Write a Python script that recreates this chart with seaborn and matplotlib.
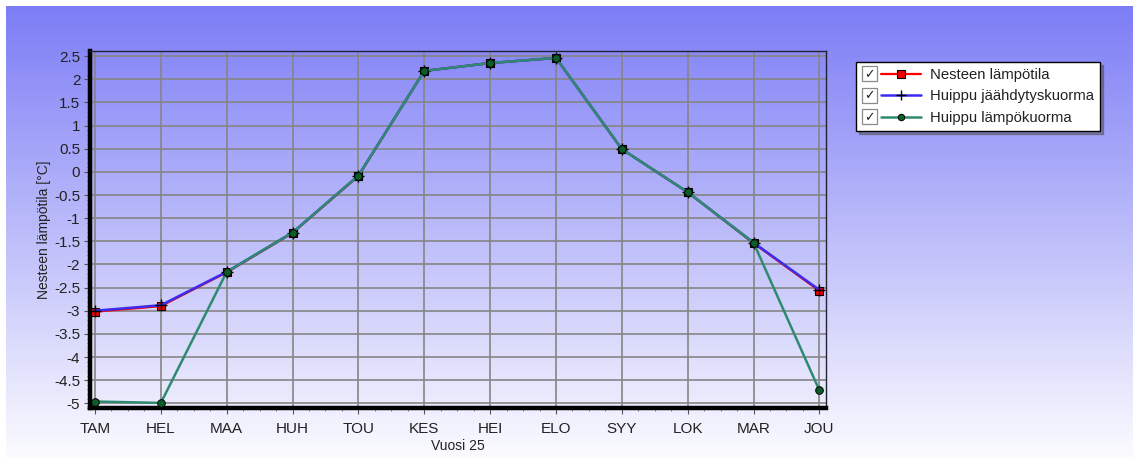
import numpy as np
import pandas as pd
import matplotlib
matplotlib.use("Agg")
import matplotlib.pyplot as plt
import seaborn as sns
from matplotlib.legend_handler import HandlerLine2D
from matplotlib.patches import Rectangle
from matplotlib.text import Text
from matplotlib.ticker import MultipleLocator, FixedLocator

# Monthly values
months = ["TAM", "HEL", "MAA", "HUH", "TOU", "KES", "HEI", "ELO", "SYY", "LOK", "MAR", "JOU"]
fluid_temp = [-3.02, -2.90, -2.17, -1.32, -0.09, 2.18, 2.35, 2.46, 0.49, -0.44, -1.54, -2.57]
peak_cooling = [-3.00, -2.88, -2.16, -1.31, -0.08, 2.18, 2.35, 2.46, 0.49, -0.44, -1.53, -2.55]
peak_heating = [-4.96, -4.99, -2.16, -1.31, -0.08, 2.18, 2.35, 2.46, 0.49, -0.44, -1.53, -4.72]

series_names = ["Nesteen lämpötila", "Huippu jäähdytyskuorma", "Huippu lämpökuorma"]

sns.set_style("white")
plt.rcParams["font.family"] = ["Liberation Sans", "DejaVu Sans"]

W, H = 1133, 458
fig = plt.figure(figsize=(W / 100, H / 100), dpi=100)
fig.patch.set_facecolor("white")

# Vertical blue-to-white gradient panel behind everything
bg = fig.add_axes([6 / W, 0, 1 - 6 / W, 1 - 6 / H], zorder=-10)
top = np.array([0.49, 0.49, 0.965])
bot = np.array([0.985, 0.985, 1.0])
t = np.linspace(0, 1, 256)[:, None]
grad = (top[None, :] * (1 - t) + bot[None, :] * t)[:, None, :]
bg.imshow(grad, aspect="auto", extent=[0, 1, 0, 1], interpolation="bilinear")
bg.set_axis_off()

ax = fig.add_axes([90 / W, 1 - 408 / H, (826 - 90) / W, (408 - 51) / H])
ax.patch.set_alpha(0)

df = pd.DataFrame({"m": np.arange(len(months)),
                   "fluid": fluid_temp, "cool": peak_cooling, "heat": peak_heating})

sns.lineplot(data=df, x="m", y="fluid", ax=ax, color="#ff0000", lw=1.6,
             marker="s", markersize=6, markerfacecolor="#ee0000",
             markeredgecolor="black", markeredgewidth=0.8, zorder=3, label=series_names[0])
sns.lineplot(data=df, x="m", y="cool", ax=ax, color="#3a2cf0", lw=1.8,
             marker="+", markersize=9, markeredgecolor="black",
             markeredgewidth=1.0, zorder=4, label=series_names[1])
sns.lineplot(data=df, x="m", y="heat", ax=ax, color="#2f8a70", lw=1.8,
             marker="o", markersize=5.5, markerfacecolor="#0b5e2a",
             markeredgecolor="black", markeredgewidth=0.7, zorder=5, label=series_names[2])

ax.set_xlim(-0.076, 11.1)
ax.set_ylim(-5.10, 2.61)
ax.xaxis.set_major_locator(FixedLocator(np.arange(len(months))))
ax.set_xticklabels(months)
ax.xaxis.set_minor_locator(MultipleLocator(0.25))
ax.yaxis.set_major_locator(MultipleLocator(0.5))
ax.yaxis.set_minor_locator(MultipleLocator(0.1))
ax.set_yticklabels([f"{v:g}" for v in ax.get_yticks()])

ax.grid(True, which="major", color="#858585", lw=1.2)
ax.set_axisbelow(True)
ax.tick_params(axis="both", which="major", direction="out", length=4, width=0.8,
               color="#555555", labelsize=11, labelcolor="#222222", pad=3)
ax.tick_params(axis="x", which="major", pad=6)
ax.tick_params(axis="both", which="minor", direction="out", length=2.5, width=0.6,
               color="#666666")
ax.tick_params(axis="x", which="both", bottom=True)
ax.tick_params(axis="y", which="both", left=True)

for side in ["left", "bottom"]:
    ax.spines[side].set_linewidth(3.2)
    ax.spines[side].set_color("black")
for side in ["top", "right"]:
    ax.spines[side].set_linewidth(1.0)
    ax.spines[side].set_color("#222233")
    ax.spines[side].set_visible(True)

ax.set_xlabel("Vuosi 25", fontsize=10, color="#222222", labelpad=2)
ax.set_ylabel("Nesteen lämpötila [°C]", fontsize=10, color="#222222", labelpad=2)


class CheckHandler(HandlerLine2D):
    """Legend entry with a ticked check box in front of the line sample."""

    def create_artists(self, legend, orig_handle, xdescent, ydescent, width,
                       height, fontsize, trans):
        box = fontsize * 1.0
        shift = box * 1.3
        arts = super().create_artists(legend, orig_handle, xdescent - shift,
                                      ydescent, width - shift, height,
                                      fontsize, trans)
        y0 = -ydescent + (height - box) / 2
        rect = Rectangle((-xdescent, y0), box, box, facecolor="white",
                         edgecolor="#8a8a8a", lw=0.9, transform=trans)
        chk = Text(-xdescent + box * 0.5, y0 + box * 0.45, "✓", ha="center",
                   va="center", fontsize=fontsize * 0.85, color="#222222",
                   fontweight="bold", family="DejaVu Sans", transform=trans)
        return [rect, chk] + list(arts)


handles, labels = ax.get_legend_handles_labels()
leg = ax.legend(handles, labels, loc="upper left",
                bbox_to_anchor=(856 / W, 1 - 62 / H), bbox_transform=fig.transFigure,
                handler_map={h: CheckHandler() for h in handles},
                handlelength=4.0, handletextpad=0.6, fontsize=10.7,
                frameon=True, fancybox=False, shadow=True, framealpha=1,
                borderpad=0.4, labelspacing=0.5, borderaxespad=0, markerscale=0.85)
leg.get_frame().set_edgecolor("black")
leg.get_frame().set_linewidth(1.0)
for txt in leg.get_texts():
    txt.set_color("#222222")

fig.savefig("out.png", dpi=100)
